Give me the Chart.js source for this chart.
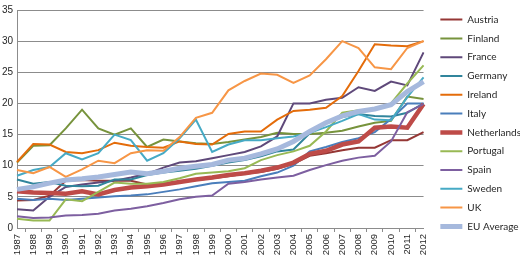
<!DOCTYPE html>
<html>
<head>
<meta charset="utf-8">
<script src="https://cdn.jsdelivr.net/npm/chart.js@4.4.1/dist/chart.umd.min.js"></script>
<style>
  body { margin: 0; background: #fff; }
  #wrap { width: 520px; height: 257px; }
</style>
</head>
<body>
<div id="wrap"><canvas id="chart" width="520" height="257"></canvas></div>
<script>
/* DATA */
const years = ["1987","1988","1989","1990","1991","1992","1993","1994","1995","1996","1997","1998","1999",
  "2000","2001","2002","2003","2004","2005","2006","2007","2008","2009","2010","2011","2012"];

const austria     = [4.4, 4.5, 5.2, 7.6, 7.7, 7.6, 7.6, 7.6, 7.0, 7.1, 7.4, 7.7, 8.0, 8.3, 8.7, 9.0, 9.5, 10.3, 11.6, 12.0, 12.5, 12.9, 12.9, 14.1, 14.1, 15.4];
const finland     = [10.5, 13.2, 13.3, 16.0, 19.0, 16.0, 15.0, 16.0, 13.0, 14.2, 13.9, 13.6, 13.5, 13.8, 14.2, 14.6, 15.3, 15.1, 15.1, 15.3, 15.6, 16.3, 16.9, 17.2, 21.1, 20.7];
const france      = [3.0, 2.8, 5.0, 6.6, 7.0, 7.3, 7.6, 8.1, 8.7, 9.7, 10.5, 10.7, 11.2, 11.7, 12.2, 13.1, 14.7, 20.0, 20.0, 20.6, 20.9, 22.6, 22.0, 23.5, 22.9, 28.2];
const germany     = [7.8, 7.1, 7.4, 6.8, 6.7, 6.8, 7.8, 7.8, 8.5, 8.9, 9.2, 9.5, 10.0, 10.5, 10.9, 11.5, 12.3, 12.6, 15.2, 16.8, 17.8, 18.3, 18.0, 17.9, 18.5, 20.0];
const ireland     = [10.6, 13.5, 13.4, 12.2, 12.0, 12.5, 13.7, 13.2, 13.0, 12.9, 13.9, 13.5, 13.4, 15.1, 15.5, 15.5, 17.4, 18.8, 19.0, 19.3, 21.2, 25.2, 29.5, 29.3, 29.2, 30.0];
const italy       = [4.7, 4.5, 4.7, 4.5, 4.7, 4.9, 5.1, 5.2, 5.4, 5.8, 6.2, 6.7, 7.2, 7.4, 7.6, 8.3, 8.9, 10.0, 12.3, 13.0, 13.8, 14.4, 15.4, 17.5, 20.0, 20.0];
const netherlands = [5.9, 5.7, 5.6, 5.5, 5.9, 5.4, 6.1, 6.5, 6.7, 7.0, 7.4, 7.8, 8.1, 8.5, 8.8, 9.2, 9.7, 10.5, 11.9, 12.4, 13.4, 13.9, 16.1, 16.3, 16.1, 19.9];
const portugal    = [1.5, 1.2, 1.2, 4.6, 4.3, 5.8, 7.3, 7.1, 7.1, 7.4, 8.0, 8.7, 8.9, 9.1, 9.6, 10.9, 11.7, 12.3, 13.2, 15.5, 18.5, 18.9, 19.0, 20.0, 23.2, 26.1];
const spain       = [1.9, 1.6, 1.7, 2.0, 2.1, 2.3, 2.8, 3.1, 3.5, 4.0, 4.6, 5.0, 5.2, 7.1, 7.4, 7.8, 8.1, 8.4, 9.3, 10.1, 10.8, 11.3, 11.6, 13.9, 18.6, 19.9];
const sweden      = [8.4, 9.3, 9.8, 12.0, 11.0, 12.0, 15.0, 14.1, 10.8, 12.0, 14.4, 17.4, 12.2, 13.4, 14.1, 14.1, 14.4, 14.7, 15.3, 16.2, 17.2, 18.3, 17.4, 17.3, 21.0, 24.2];
const uk          = [9.3, 8.8, 9.8, 8.2, 9.4, 10.8, 10.4, 12.0, 12.5, 12.4, 14.6, 17.7, 18.5, 22.1, 23.6, 24.8, 24.6, 23.3, 24.5, 27.1, 30.0, 28.9, 25.8, 25.5, 28.9, 30.0];
const euAverage   = [6.2, 6.6, 7.2, 7.7, 7.9, 8.2, 8.6, 9.0, 8.7, 9.1, 9.6, 9.9, 10.2, 10.9, 11.2, 11.9, 12.7, 13.9, 15.5, 16.9, 18.0, 18.7, 19.1, 19.8, 21.9, 23.5];

const yTicks = [0, 5, 10, 15, 20, 25, 30, 35];

/* SERIES */
const series = [
  ["Austria",     austria,     "#953735", 2],
  ["Finland",     finland,     "#77933C", 2],
  ["France",      france,      "#5F497A", 2],
  ["Germany",     germany,     "#31859C", 2],
  ["Ireland",     ireland,     "#E46C0A", 2],
  ["Italy",       italy,       "#4A7EBB", 2],
  ["Netherlands", netherlands, "#BE4B48", 4.5],
  ["Portugal",    portugal,    "#98B954", 2],
  ["Spain",       spain,       "#7D5FA0", 2],
  ["Sweden",      sweden,      "#46AAC5", 2],
  ["UK",          uk,          "#F79646", 2],
  ["EU Average",  euAverage,   "#A6B9DD", 5]
];

const gridColor = "#8c8c8c";

/* nudge the legend a little to the right, away from the plot */
const legendShift = {
  id: "legendShift",
  afterLayout(chart) {
    chart.legend.left += 8;
    chart.legend.right += 8;
  }
};

new Chart(document.getElementById("chart"), {
  type: "line",
  data: {
    labels: years,
    datasets: series.map((s, i) => ({
      label: s[0],
      data: s[1],
      borderColor: s[2],
      backgroundColor: s[2],
      borderWidth: s[3],
      pointRadius: 0,
      tension: 0,
      fill: false,
      order: series.length - i   // later series drawn on top
    }))
  },
  plugins: [legendShift],
  options: {
    responsive: false,
    animation: false,
    layout: { padding: { top: -11, right: -3, left: 0, bottom: 0 } },
    plugins: {
      tooltip: { enabled: false },
      legend: {
        position: "right",
        labels: {
          usePointStyle: true,
          pointStyle: "line",
          pointStyleWidth: 22,
          boxWidth: 22,
          boxHeight: 10,
          padding: 8.8,
          color: "#262626",
          font: { family: "Lato", size: 10 },
          sort: (a, b) => a.datasetIndex - b.datasetIndex
        }
      }
    },
    scales: {
      x: {
        grid: { drawOnChartArea: false, offset: true, tickLength: 4, color: gridColor },
        border: { color: gridColor },
        ticks: {
          minRotation: 90, maxRotation: 90, autoSkip: false, padding: 2,
          color: "#262626", font: { family: "Liberation Sans", size: 9.5 }
        },
        afterFit: sc => { sc.height = 29; }
      },
      y: {
        min: 0, max: 35,
        afterBuildTicks: sc => { sc.ticks = yTicks.map(v => ({ value: v })); },
        grid: { color: gridColor, drawTicks: false },
        border: { color: gridColor },
        ticks: { padding: 4, color: "#262626", font: { family: "Liberation Sans", size: 10 } },
        afterFit: sc => { sc.width = 17; }
      }
    }
  }
});
</script>
</body>
</html>
